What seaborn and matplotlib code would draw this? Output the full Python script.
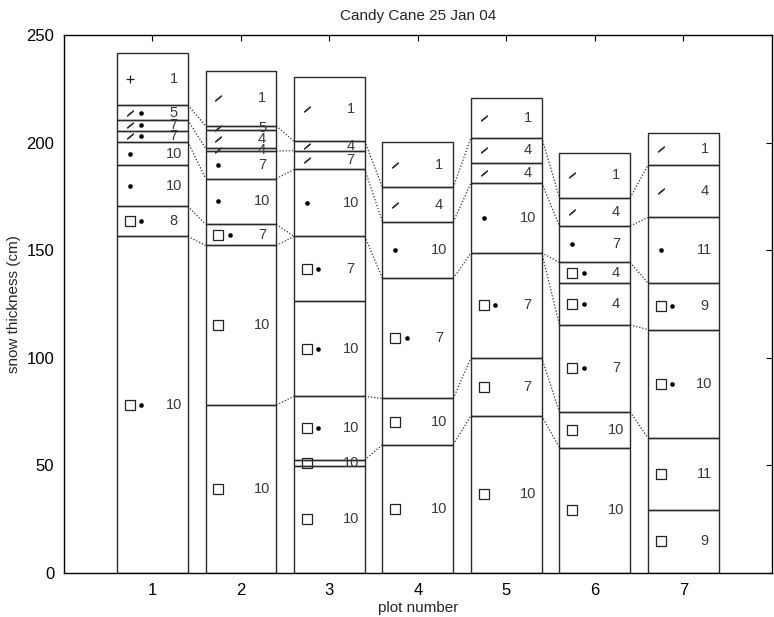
import numpy as np
import pandas as pd
import matplotlib
matplotlib.use("Agg")
import matplotlib.pyplot as plt
import seaborn as sns

# ---------------- data ----------------
title = "Candy Cane 25 Jan 04"
plots = [1, 2, 3, 4, 5, 6, 7]

# layer boundaries (cm), top to bottom, for each plot
bounds1 = [241.5, 217.4, 210.4, 205.6, 200.3, 189.5, 170.4, 156.4, 0]
bounds2 = [233.4, 207.8, 205.8, 197.4, 196.0, 183.3, 162.0, 152.2, 78.1, 0]
bounds3 = [230.6, 200.6, 196.3, 187.5, 156.4, 126.2, 82.1, 52.5, 49.8, 0]
bounds4 = [200.3, 179.2, 163.1, 136.9, 81.1, 59.7, 0]
bounds5 = [220.5, 202.3, 190.6, 181.3, 148.8, 100.0, 73.0, 0]
bounds6 = [195.2, 174.4, 161.3, 144.3, 134.8, 115.3, 74.8, 58.3, 0]
bounds7 = [204.6, 189.5, 165.2, 134.8, 113.1, 62.8, 29.5, 0]

# grain type codes per layer: P=+ (new snow), D=/ (fragments), R=• (rounded), F=□ (faceted)
grains1 = ["P", "DR", "DR", "DR", "R", "R", "FR", "FR"]
grains2 = ["D", "D", "D", "D", "R", "R", "FR", "F", "F"]
grains3 = ["D", "D", "D", "R", "FR", "FR", "FR", "F", "F"]
grains4 = ["D", "D", "R", "FR", "F", "F"]
grains5 = ["D", "D", "D", "R", "FR", "F", "F"]
grains6 = ["D", "D", "R", "FR", "FR", "FR", "F", "F"]
grains7 = ["D", "D", "R", "FR", "FR", "F", "F"]

# numbers written in each layer
nums1 = [1, 5, 7, 7, 10, 10, 8, 10]
nums2 = [1, 5, 4, 4, 7, 10, 7, 10, 10]
nums3 = [1, 4, 7, 10, 7, 10, 10, 10, 10]
nums4 = [1, 4, 10, 7, 10, 10]
nums5 = [1, 4, 4, 10, 7, 7, 10]
nums6 = [1, 4, 7, 4, 4, 7, 10, 10]
nums7 = [1, 4, 11, 9, 10, 11, 9]

# dotted correlation lines: (boundary index in plot i, boundary index in plot i+1)
links12 = [(1, 1), (2, 3), (4, 5), (6, 6), (7, 7)]
links23 = [(1, 1), (4, 2), (5, 3), (6, 4), (7, 4), (8, 6)]
links34 = [(1, 1), (3, 2), (4, 3), (6, 4), (7, 5)]
links45 = [(1, 1), (2, 3), (3, 4), (4, 5), (5, 6)]
links56 = [(1, 1), (3, 2), (4, 3), (4, 5), (5, 6), (6, 7)]
links67 = [(1, 1), (2, 2), (3, 3), (5, 4), (6, 5)]

all_bounds = [bounds1, bounds2, bounds3, bounds4, bounds5, bounds6, bounds7]
all_grains = [grains1, grains2, grains3, grains4, grains5, grains6, grains7]
all_nums = [nums1, nums2, nums3, nums4, nums5, nums6, nums7]
all_links = [links12, links23, links34, links45, links56, links67]

# ---------------- figure ----------------
sns.set_style("white")
plt.rcParams["font.family"] = ["Liberation Sans", "DejaVu Sans"]

fig = plt.figure(figsize=(7.74, 6.17), dpi=100)
ax = fig.add_axes([0.0827, 0.0713, 0.9144, 0.8720])

HALF = 0.4
edge = "#2a2a2a"

# layer boxes
for p, b in zip(plots, all_bounds):
    tops = np.array(b[:-1])
    bots = np.array(b[1:])
    ax.bar([p] * len(tops), tops - bots, bottom=bots, width=2 * HALF,
           fill=False, edgecolor=edge, linewidth=1.0, align="center", zorder=2)

# dotted links
for i, links in enumerate(all_links):
    bl, br = all_bounds[i], all_bounds[i + 1]
    xl, xr = plots[i] + HALF, plots[i + 1] - HALF
    for a, c in links:
        ax.plot([xl, xr], [bl[a], br[c]], linestyle=(0, (1, 1.5)),
                color="#333333", linewidth=0.9, zorder=1)

# symbols
rows = []
for p, b, g, n in zip(plots, all_bounds, all_grains, all_nums):
    for k in range(len(g)):
        ymid = 0.5 * (b[k] + b[k + 1])
        for j, ch in enumerate(g[k]):
            rows.append({"x": p - 0.255 + 0.13 * j, "y": ymid, "kind": ch})
        ax.text(p + 0.24, ymid, str(n[k]), ha="center", va="center",
                fontsize=10.5, color="#3a3a3a", zorder=3)
sym = pd.DataFrame(rows)

d = sym[sym.kind == "R"]
sns.scatterplot(data=d, x="x", y="y", marker="o", s=11, color="black",
                edgecolor="black", linewidth=0, ax=ax, zorder=4, legend=False)
d = sym[sym.kind == "F"]
for _, r in d.iterrows():
    ax.plot(r.x, r.y, marker="s", ms=6.5, mfc="none", mec="#222222",
            mew=0.9, zorder=4)
d = sym[sym.kind == "P"]
sns.scatterplot(data=d, x="x", y="y", marker="+", s=40, color="#222222",
                linewidth=0.9, ax=ax, zorder=4, legend=False)
d = sym[sym.kind == "D"]
for _, r in d.iterrows():
    ax.plot(r.x, r.y, marker=(2, 2, -50), ms=6, mec="#333333",
            mew=0.9, zorder=4)

ax.set_xlim(0, 8)
ax.set_ylim(0, 250)
ax.set_xticks(plots)
ax.set_yticks([0, 50, 100, 150, 200, 250])
ax.tick_params(direction="in", length=4, width=0.8, top=True, right=True,
               labelsize=12, colors="black", pad=7)
for s in ax.spines.values():
    s.set_visible(True)
    s.set_color("black")
    s.set_linewidth(1.0)
ax.set_xlabel("plot number", fontsize=11, labelpad=2)
ax.set_ylabel("snow thickness (cm)", fontsize=11, labelpad=4)
ax.set_title(title, fontsize=11, pad=11)

fig.savefig("out.png", dpi=100)
